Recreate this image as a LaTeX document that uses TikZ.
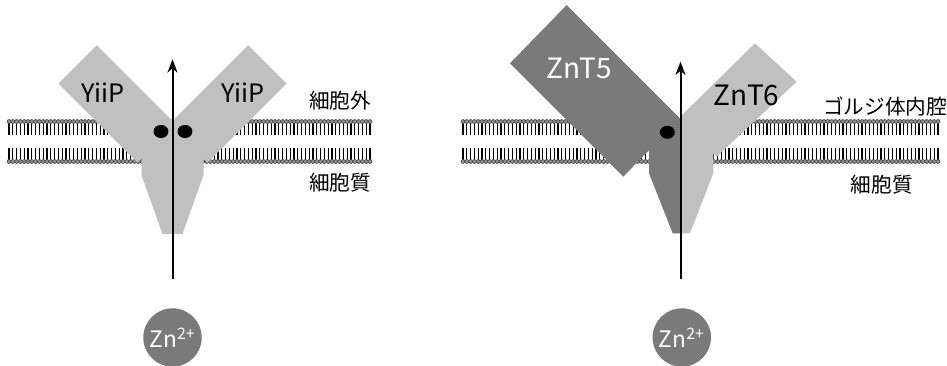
\documentclass[tikz,border=0pt]{standalone}
\usepackage{fontspec}
\setmainfont{Noto Sans CJK JP}
\usepackage{xcolor}
\usetikzlibrary{arrows.meta}

\definecolor{protlight}{RGB}{192,192,192}
\definecolor{protdark}{RGB}{122,122,122}
\definecolor{headgray}{RGB}{140,140,140}

% bicamada lipidica: #1 = x inicial, #2 = numero de lipidios
\newcommand{\bicamada}[2]{%
  \foreach \i in {0,...,#2} {
    \pgfmathsetmacro{\x}{#1+3.8*\i}
    \draw[tail] (\x,123) -- (\x,135) (\x,147.5) -- (\x,159.5);
    \filldraw[head] (\x,121.5) circle (1.5pt) (\x,161.5) circle (1.5pt);
  }%
}

\begin{document}
\begin{tikzpicture}[
        x=0.75pt, y=-0.75pt,
        >={Stealth[length=10pt, width=7.5pt]},
        tail/.style={line width=0.85pt, black},
        head/.style={fill=headgray, draw=black!75, line width=0.4pt},
        lightarm/.style={fill=protlight},
        darkarm/.style={fill=protdark},
        site/.style={fill=black},
        transport/.style={->, line width=1.5pt},
        ion/.style={circle, fill=protdark, minimum size=43.8pt, inner sep=0pt,
          text=white, font=\fontsize{17}{19}\selectfont},
        prot/.style={font=\fontsize{19}{22}\selectfont},
        compartment/.style={font=\fontsize{15.5}{18}\selectfont},
      ]
      \useasboundingbox (0,0) rectangle (947,365);

      % Membranas
      \bicamada{9}{95}
      \bicamada{463}{125}

      % YiiP (dimero)
      \fill[lightarm] (172.5,120.9) -- (248.2,45.2) -- (286.5,83.5)
        -- (207.5,162.5) -- (203.5,158.5) -- (203.5,175) -- (182.5,234)
        -- (162.5,234) -- (141.5,175) -- (141.5,158.5) -- (137.5,162.5)
        -- (58.5,83.5) -- (96.8,45.2) -- cycle;
      \fill[site] (161,131.5) ellipse [x radius=5.6pt, y radius=4.9pt];
      \fill[site] (185,131.5) ellipse [x radius=5.6pt, y radius=4.9pt];

      % ZnT5 / ZnT6 (heterodimero)
      \fill[darkarm] (566.7,5) -- (680,118.3) -- (680,233.3) -- (672.7,233.3)
        -- (649,173.3) -- (649,150.3) -- (623.3,176.7) -- (510,63.3) -- cycle;
      \fill[lightarm] (680,117) -- (755,43.3) -- (796.7,81.7) -- (716.7,156.7)
        -- (713.3,153.5) -- (713.3,173.3) -- (690,233.3) -- (680,233.3) -- cycle;
      \fill[site] (667.3,132.3) ellipse [x radius=5.6pt, y radius=4.9pt];

      % Rotulos
      \node[prot] (yiipL) at (103,93) {YiiP};
      \node[prot] (yiipR) at (243,93) {YiiP};
      \node[prot, text=white, font=\fontsize{21}{24}\selectfont] (znt5) at (579,68.3) {ZnT5};
      \node[prot, font=\fontsize{21}{24}\selectfont] (znt6) at (746.7,95) {ZnT6};
      \node[compartment] (extra) at (340,101) {細胞外};
      \node[compartment] (citoL) at (340,183) {細胞質};
      \node[compartment] (golgi) at (885,106.5) {ゴルジ体内腔};
      \node[compartment] (citoR) at (881.7,185) {細胞質};

      % Ions e transporte
      \node[ion] (znL) at (172.5,337.5) {Zn\textsuperscript{2+}};
      \node[ion] (znR) at (681.8,337.5) {Zn\textsuperscript{2+}};
      \coordinate (inL) at (172.5,279.3);
      \coordinate (outL) at (172.5,59.3);
      \coordinate (inR) at (680.5,279.3);
      \coordinate (outR) at (680.5,61.7);
      \draw[transport] (inL) -- (outL);
      \draw[transport] (inR) -- (outR);

    \end{tikzpicture}
\end{document}
